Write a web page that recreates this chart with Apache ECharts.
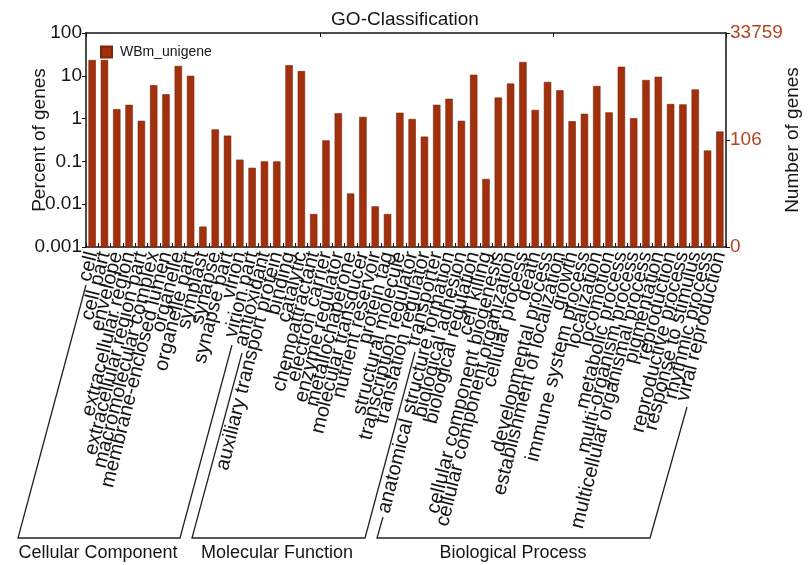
<!DOCTYPE html>
<html>
<head>
<meta charset="utf-8">
<script src="https://cdn.jsdelivr.net/npm/echarts@6/dist/echarts.min.js"></script>
<style>html,body{margin:0;padding:0;background:#fff}#c{width:810px;height:565px}</style>
</head>
<body>
<div id="c"></div>
<script>
const categories = [
  'cell','cell part','envelope','extracellular region','extracellular region part','macromolecular complex','membrane-enclosed lumen','organelle','organelle part','symplast','synapse','synapse part','virion','virion part',
  'antioxidant','auxiliary transport protein','binding','catalytic','chemoattractant','electron carrier','enzyme regulator','metallochaperone','molecular transducer','nutrient reservoir','protein tag','structural molecule','transcription regulator','translation regulator','transporter',
  'anatomical structure formation','biological adhesion','biological regulation','cell killing','cellular component biogenesis','cellular component organization','cellular process','death','developmental process','establishment of localization','growth','immune system process','localization','locomotion','metabolic process','multi-organism process','multicellular organismal process','pigmentation','reproduction','reproductive process','response to stimulus','rhythmic process','viral reproduction'
];
const percentValues = [
  23.4, 23.4, 1.66, 2.1, 0.89, 6.0, 3.7, 17, 10, 0.003, 0.56, 0.40, 0.11, 0.071,
  0.10, 0.10, 17.6, 12.9, 0.0059, 0.31, 1.33, 0.0178, 1.1, 0.0089, 0.0059, 1.37, 0.98, 0.38, 2.1,
  2.9, 0.89, 10.6, 0.039, 3.1, 6.6, 21, 1.6, 7.2, 4.6, 0.87, 1.3, 5.8, 1.4, 16.3, 1.02, 8.0, 9.5, 2.2, 2.15, 4.8, 0.18, 0.50
];
const leftTickLabels = ['0.001','0.01','0.1','1','10','100'];
const rightTickLabels = ['0','106','33759'];
const groupNames = ['Cellular Component','Molecular Function','Biological Process'];
const seriesName = 'WBm_unigene';

const FONT = '"Liberation Sans", Arial, sans-serif';
const TXT = '#151515';
const BAR = '#A1310D';
const RED = '#B4431F';

const chart = echarts.init(document.getElementById('c'), null, {renderer: 'canvas'});

function bracket(points) {
  return {type: 'polyline', shape: {points: points}, style: {stroke: '#222', lineWidth: 1.3, fill: null}, silent: true};
}
function groupText(x, text) {
  return {type: 'text', x: x, y: 553, style: {text: text, font: '18px ' + FONT, fill: TXT, align: 'center', verticalAlign: 'middle'}, silent: true};
}

chart.setOption({
  animation: false,
  backgroundColor: '#fff',
  textStyle: {fontFamily: FONT},
  title: {
    text: 'GO-Classification', left: 'center', top: 5,
    textStyle: {fontSize: 19, fontWeight: 'normal', color: TXT, fontFamily: FONT}
  },
  legend: {
    data: [seriesName], left: 95, top: 40, itemWidth: 11, itemHeight: 11, icon: 'rect',
    textStyle: {fontSize: 14, color: TXT, fontFamily: FONT, padding: [0, 0, 0, 3]}
  },
  grid: {left: 86, right: 82, top: 33, height: 214, containLabel: false},
  xAxis: [
    {
      type: 'category', data: categories, position: 'bottom',
      axisLine: {lineStyle: {color: '#111', width: 1.5}},
      axisTick: {show: true, inside: true, length: 4, lineStyle: {color: '#111'}},
      axisLabel: {interval: 0, rotate: 76, fontSize: 20, color: TXT, margin: 5, fontFamily: FONT}
    },
    {
      type: 'category', data: categories, position: 'top',
      axisLine: {show: true, lineStyle: {color: '#111', width: 1.5}},
      axisTick: {show: true, inside: true, length: 4, lineStyle: {color: '#111'}},
      axisLabel: {show: false}
    }
  ],
  yAxis: [
    {
      type: 'log', logBase: 10, min: 0.001, max: 100, startValue: 0.001, position: 'left',
      name: 'Percent of genes', nameLocation: 'middle', nameGap: 37, nameMoveOverlap: false,
      nameTextStyle: {fontSize: 19, color: TXT, fontFamily: FONT},
      axisLine: {show: true, lineStyle: {color: '#111', width: 1.5}},
      axisTick: {show: true, inside: false, length: 4, lineStyle: {color: '#111'}},
      splitLine: {show: false},
      axisLabel: {
        fontSize: 19, color: TXT, margin: 4, fontFamily: FONT,
        formatter: function (v) {
          const i = Math.round(Math.log10(v)) + 3;
          return leftTickLabels[i] !== undefined ? leftTickLabels[i] : '';
        }
      }
    },
    {
      type: 'value', min: 0, max: 2, interval: 1, position: 'right',
      name: 'Number of genes', nameLocation: 'middle', nameGap: 57, nameMoveOverlap: false,
      nameTextStyle: {fontSize: 19, color: TXT, fontFamily: FONT},
      axisLine: {show: true, lineStyle: {color: '#111', width: 1.5}},
      axisTick: {show: true, inside: false, length: 4, lineStyle: {color: '#111'}},
      splitLine: {show: false},
      axisLabel: {
        fontSize: 19, color: RED, margin: 4, fontFamily: FONT,
        formatter: function (v) { return rightTickLabels[Math.round(v)]; }
      }
    }
  ],
  series: [{
    name: seriesName, type: 'bar', data: percentValues, xAxisIndex: 0, yAxisIndex: 0,
    barCategoryGap: '40%',
    itemStyle: {color: BAR, borderColor: '#7E2408', borderWidth: 0.6}
  }],
  graphic: [
    bracket([[86, 285], [18, 538], [180, 538], [232, 345]]),
    bracket([[242, 353], [192, 538], [365, 538], [415, 352]]),
    bracket([[383, 517], [377, 538], [650, 538], [687, 407]]),
    groupText(98, groupNames[0]),
    groupText(277, groupNames[1]),
    groupText(513, groupNames[2])
  ]
});
</script>
</body>
</html>
